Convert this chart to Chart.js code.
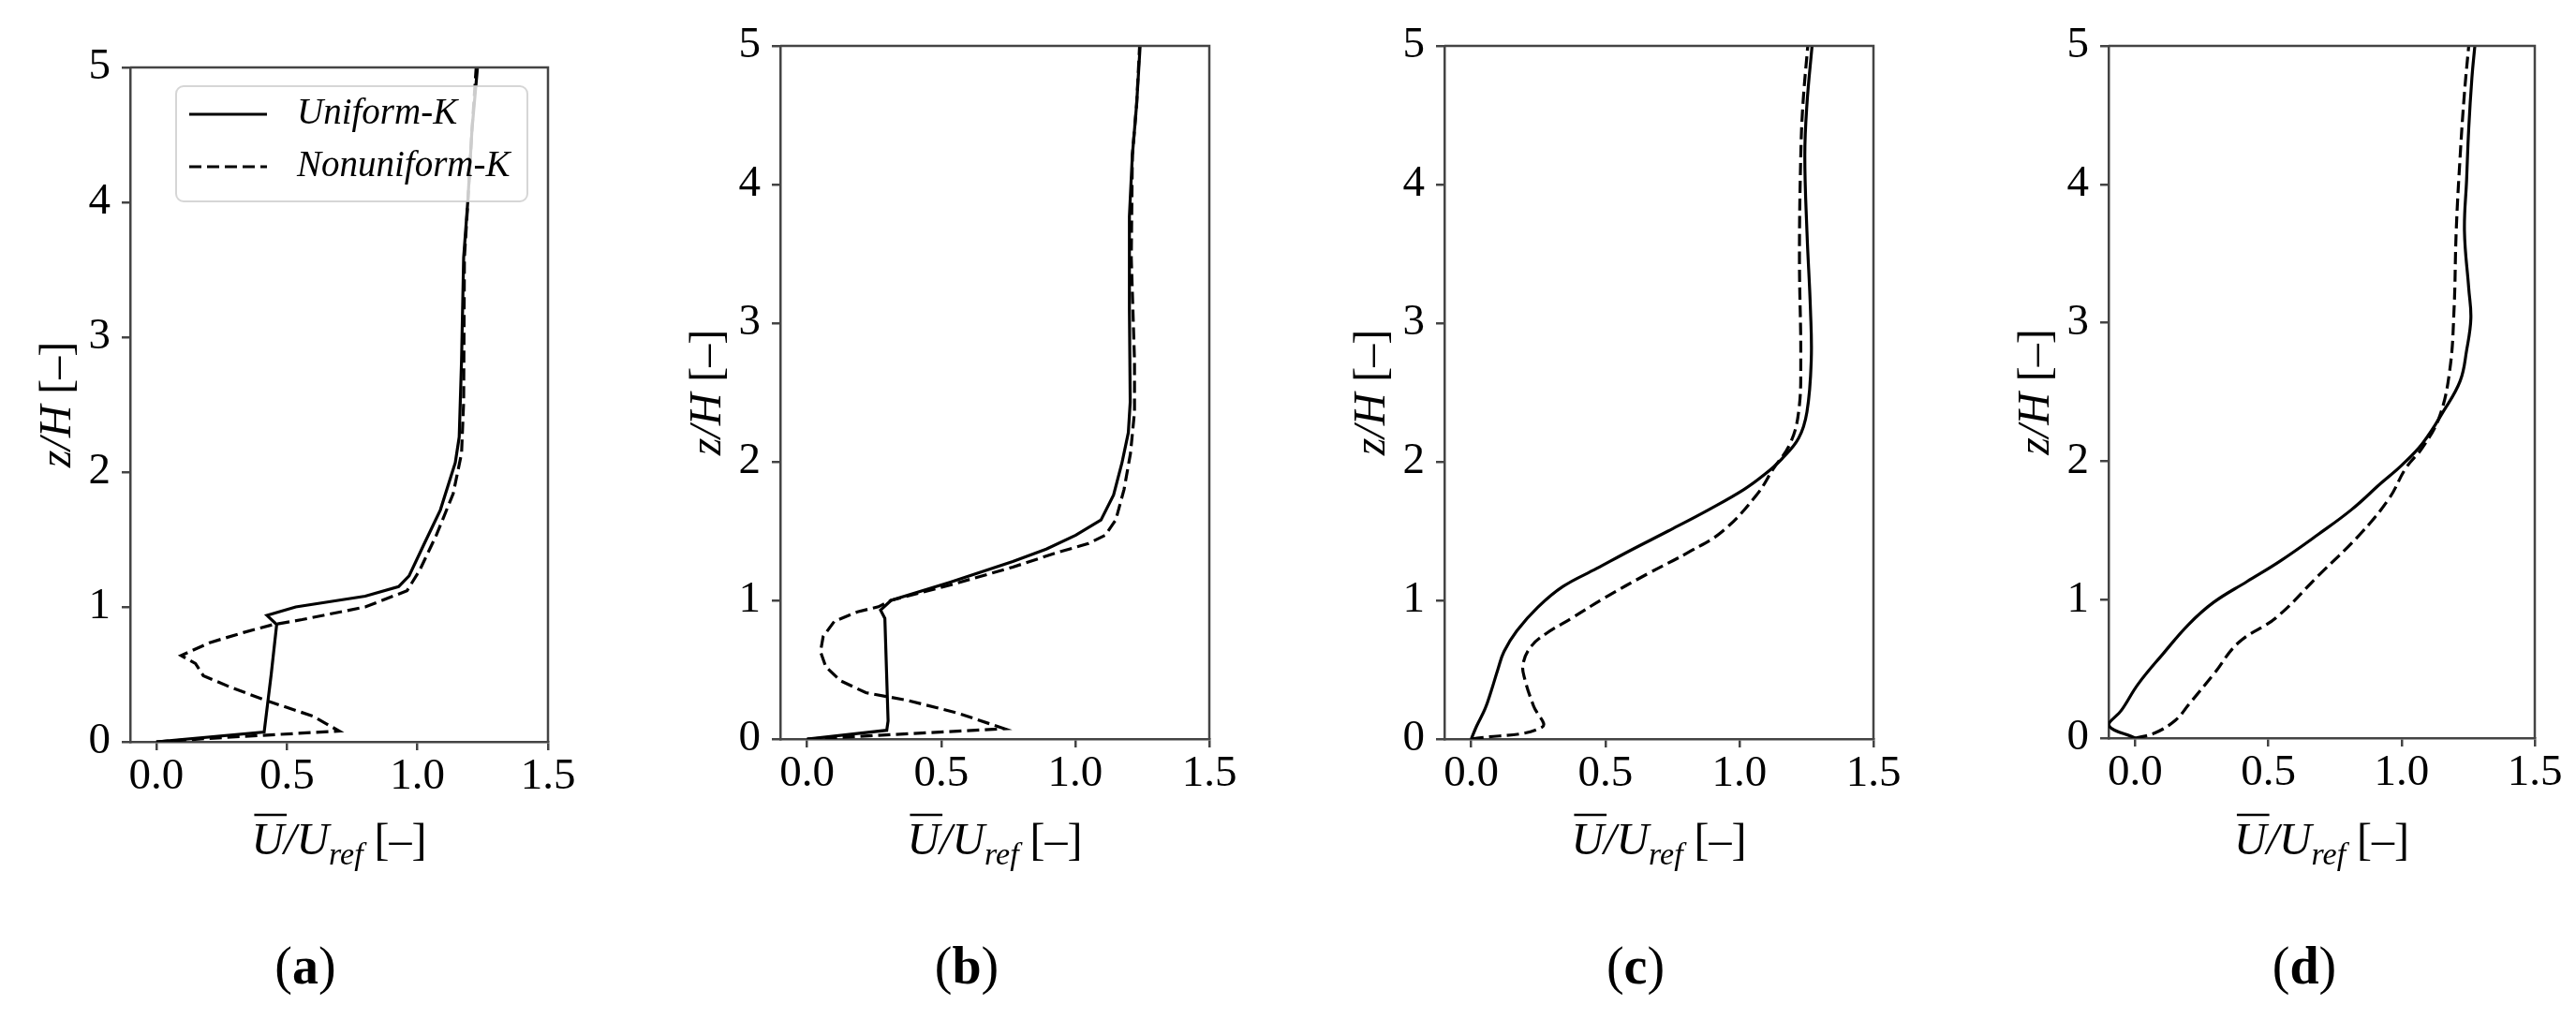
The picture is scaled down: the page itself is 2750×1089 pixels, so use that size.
<!DOCTYPE html>
<html>
<head>
<meta charset="utf-8">
<script src="https://cdn.jsdelivr.net/npm/chart.js@4.4.1/dist/chart.umd.min.js"></script>
<style>
    html, body { margin: 0; padding: 0; background: #fff; overflow: hidden; width: 2750px; height: 1089px; }
    canvas { position: absolute; top: 0; }
</style>
</head>
<body>
<canvas id="chartA"></canvas>
<canvas id="chartB"></canvas>
<canvas id="chartC"></canvas>
<canvas id="chartD"></canvas>
<script>
"use strict";

var xTicks = [0, 0.5, 1.0, 1.5];
var zTicks = [0, 1, 2, 3, 4, 5];
var seriesNames = ['Uniform-K', 'Nonuniform-K'];

// (a)
var aUniformU = [0, 0.413, 0.44, 0.461, 0.424, 0.534, 0.8, 0.928, 0.968, 1.024, 1.088, 1.145, 1.16, 1.169, 1.177, 1.193, 1.209, 1.23];
var aUniformZ = [0, 0.072, 0.5, 0.87, 0.937, 1.0, 1.08, 1.15, 1.23, 1.46, 1.72, 2.07, 2.26, 2.83, 3.59, 4.01, 4.54, 5.0];
var aNonuniformU = [0, 0.2, 0.70, 0.6, 0.43, 0.29, 0.18, 0.15, 0.095, 0.204, 0.333, 0.445, 0.558, 0.8, 0.96, 1.008, 1.072, 1.137, 1.169, 1.177, 1.18, 1.193, 1.209, 1.225];
var aNonuniformZ = [0, 0.025, 0.08, 0.19, 0.30, 0.40, 0.49, 0.58, 0.64, 0.735, 0.81, 0.868, 0.906, 1.0, 1.12, 1.27, 1.53, 1.84, 2.14, 2.52, 3.59, 4.0, 4.54, 5.0];

// (b)
var bUniformU = [0, 0.297, 0.302, 0.29, 0.274, 0.313, 0.532, 0.767, 0.892, 1.002, 1.096, 1.143, 1.174, 1.198, 1.205, 1.202, 1.202, 1.213, 1.229, 1.242];
var bUniformZ = [0, 0.063, 0.13, 0.87, 0.93, 1.0, 1.13, 1.28, 1.37, 1.47, 1.58, 1.76, 1.99, 2.21, 2.43, 3.1, 3.77, 4.21, 4.58, 5.0];
var bNonuniformU = [0, 0.736, 0.564, 0.376, 0.219, 0.125, 0.07, 0.05, 0.06, 0.102, 0.188, 0.266, 0.313, 0.532, 0.767, 0.924, 1.049, 1.112, 1.151, 1.182, 1.206, 1.221, 1.221, 1.209, 1.213, 1.229, 1.24];
var bNonuniformZ = [0, 0.074, 0.186, 0.278, 0.334, 0.42, 0.52, 0.63, 0.74, 0.85, 0.917, 0.954, 1.0, 1.11, 1.24, 1.34, 1.41, 1.47, 1.58, 1.8, 2.06, 2.36, 2.73, 3.47, 4.21, 4.58, 5.0];

// (c)
var cUniformU = [0, 0.02, 0.052, 0.075, 0.099, 0.122, 0.17, 0.248, 0.342, 0.468, 0.593, 0.734, 0.891, 1.017, 1.095, 1.158, 1.221, 1.252, 1.268, 1.265, 1.252, 1.244, 1.252, 1.271];
var cUniformZ = [0, 0.093, 0.22, 0.35, 0.5, 0.63, 0.78, 0.95, 1.1, 1.23, 1.36, 1.50, 1.66, 1.8, 1.91, 2.02, 2.17, 2.36, 2.73, 3.1, 3.66, 4.21, 4.58, 5.0];
var cNonuniformU = [0, 0.264, 0.232, 0.2, 0.193, 0.224, 0.279, 0.373, 0.499, 0.656, 0.813, 0.938, 1.064, 1.127, 1.189, 1.221, 1.229, 1.224, 1.229, 1.237, 1.255];
var cNonuniformZ = [0, 0.085, 0.24, 0.43, 0.54, 0.67, 0.76, 0.87, 1.02, 1.19, 1.35, 1.5, 1.76, 1.95, 2.13, 2.36, 2.73, 3.47, 4.21, 4.58, 5.0];

// (d)
var dUniformU = [0, -0.1, -0.052, 0.011, 0.105, 0.2, 0.294, 0.419, 0.545, 0.686, 0.812, 0.922, 1.0, 1.079, 1.157, 1.22, 1.244, 1.26, 1.252, 1.236, 1.244, 1.252, 1.264, 1.275];
var dUniformZ = [0, 0.093, 0.2, 0.39, 0.61, 0.82, 0.98, 1.13, 1.28, 1.47, 1.65, 1.84, 1.97, 2.13, 2.36, 2.58, 2.8, 3.03, 3.25, 3.66, 4.03, 4.4, 4.77, 5.0];
var dNonuniformU = [0, 0.074, 0.152, 0.2, 0.294, 0.388, 0.529, 0.686, 0.843, 0.953, 1.016, 1.079, 1.142, 1.181, 1.197, 1.205, 1.22, 1.236, 1.252];
var dNonuniformZ = [0, 0.037, 0.13, 0.24, 0.46, 0.69, 0.87, 1.17, 1.47, 1.73, 1.95, 2.1, 2.32, 2.66, 3.1, 3.66, 4.21, 4.66, 5.0];

var FONT = '"Liberation Serif", "Times New Roman", serif';
var AXIS_COLOR = '#444';
var PAGE_H = 1089;
var Y_AXIS_W = 130;

var panels = [
    { id: 'chartA', letter: 'a', left: 139, right: 585, top: 72, bottom: 792, labelX: 326, padRight: 60, tension: 0, legend: true,
      series: [[aUniformU, aUniformZ], [aNonuniformU, aNonuniformZ]] },
    { id: 'chartB', letter: 'b', left: 833, right: 1291, top: 49, bottom: 789, labelX: 1032, padRight: 60, tension: 0, legend: false,
      series: [[bUniformU, bUniformZ], [bNonuniformU, bNonuniformZ]] },
    { id: 'chartC', letter: 'c', left: 1542, right: 2000, top: 49, bottom: 789, labelX: 1746, padRight: 60, tension: 0.4, legend: false,
      series: [[cUniformU, cUniformZ], [cNonuniformU, cNonuniformZ]] },
    { id: 'chartD', letter: 'd', left: 2251, right: 2706, top: 49, bottom: 788, labelX: 2460, padRight: 44, tension: 0.4, legend: false,
      series: [[dUniformU, dUniformZ], [dNonuniformU, dNonuniformZ]] }
];

function MakePoints(us, zs) {
    return us.map(function (u, i) { return { x: u, y: zs[i] }; });
}

// draws a row of text pieces with mixed styles, starting at x
function DrawPieces(ctx, pieces, x, y) {
    pieces.forEach(function (p) {
        ctx.font = p.font;
        ctx.fillText(p.text, x, y + (p.dy || 0));
        p.x = x;
        p.w = ctx.measureText(p.text).width;
        x += p.w;
    });
}

function PiecesWidth(ctx, pieces) {
    var w = 0;
    pieces.forEach(function (p) {
        ctx.font = p.font;
        w += ctx.measureText(p.text).width;
    });
    return w;
}

var decorPlugin = {
    id: 'decor',
    afterDraw: function (chart) {
        var ctx = chart.ctx;
        var a = chart.chartArea;
        var p = chart.options.plugins.decor.panel;
        var canvasLeft = p.left - Y_AXIS_W;
        ctx.save();

        // top and right spines
        ctx.strokeStyle = AXIS_COLOR;
        ctx.lineWidth = 2.5;
        ctx.beginPath();
        ctx.moveTo(a.left, a.top);
        ctx.lineTo(a.right, a.top);
        ctx.lineTo(a.right, a.bottom);
        ctx.stroke();

        ctx.fillStyle = '#000';
        ctx.textBaseline = 'alphabetic';
        ctx.textAlign = 'left';

        // x label
        var xl = [
            { text: 'U', font: 'italic 48px ' + FONT },
            { text: '/U', font: 'italic 48px ' + FONT },
            { text: 'ref', font: 'italic 34px ' + FONT, dy: 11 },
            { text: ' [\u2013]', font: '48px ' + FONT }
        ];
        var cx = (a.left + a.right) / 2;
        var xw = PiecesWidth(ctx, xl);
        DrawPieces(ctx, xl, cx - xw / 2, 912);
        ctx.strokeStyle = '#000';
        ctx.lineWidth = 2.5;
        ctx.beginPath();
        ctx.moveTo(xl[0].x + 3, 870);
        ctx.lineTo(xl[0].x + xl[0].w + 3, 870);
        ctx.stroke();

        // y label
        var yl = [
            { text: 'z/H', font: 'italic 48px ' + FONT },
            { text: ' [\u2013]', font: '48px ' + FONT }
        ];
        ctx.save();
        ctx.translate(a.left - 77, (a.top + a.bottom) / 2);
        ctx.rotate(-Math.PI / 2);
        ctx.textBaseline = 'middle';
        var yw = PiecesWidth(ctx, yl);
        DrawPieces(ctx, yl, -yw / 2, 0);
        ctx.restore();

        // panel letter
        var pl = [
            { text: '(', font: '56px ' + FONT },
            { text: p.letter, font: 'bold 56px ' + FONT },
            { text: ')', font: '56px ' + FONT }
        ];
        var pw = PiecesWidth(ctx, pl);
        DrawPieces(ctx, pl, p.labelX - canvasLeft - pw / 2, 1050);

        // legend box
        if (p.legend) {
            var bx = a.left + 49, by = a.top + 20, bw = 375, bh = 123;
            ctx.fillStyle = 'rgba(255,255,255,0.8)';
            ctx.strokeStyle = 'rgba(204,204,204,0.8)';
            ctx.lineWidth = 2;
            ctx.beginPath();
            ctx.roundRect(bx, by, bw, bh, 8);
            ctx.fill();
            ctx.stroke();
            var rows = [by + 30, by + 86];
            ctx.strokeStyle = '#000';
            ctx.lineWidth = 3.2;
            seriesNames.forEach(function (name, i) {
                ctx.setLineDash(i === 1 ? [13, 6] : []);
                ctx.beginPath();
                ctx.moveTo(bx + 14, rows[i]);
                ctx.lineTo(bx + 97, rows[i]);
                ctx.stroke();
                ctx.setLineDash([]);
                ctx.fillStyle = '#000';
                ctx.textBaseline = 'middle';
                ctx.font = 'italic 39px ' + FONT;
                ctx.fillText(name, bx + 129, rows[i]);
            });
        }
        ctx.restore();
    }
};

function BuildPanel(p) {
    var canvas = document.getElementById(p.id);
    var width = (p.right - p.left) + Y_AXIS_W + p.padRight;
    canvas.width = width;
    canvas.height = PAGE_H;
    canvas.style.left = (p.left - Y_AXIS_W) + 'px';
    canvas.style.width = width + 'px';
    canvas.style.height = PAGE_H + 'px';

    var datasets = p.series.map(function (s, i) {
        return {
            label: seriesNames[i],
            data: MakePoints(s[0], s[1]),
            showLine: true,
            borderColor: '#000',
            backgroundColor: '#000',
            borderWidth: 3.2,
            borderDash: i === 1 ? [13, 6] : [],
            pointRadius: 0,
            tension: p.tension,
            fill: false
        };
    });

    var tickFont = { family: FONT, size: 47, lineHeight: 1 };

    return new Chart(canvas, {
        type: 'scatter',
        data: { datasets: datasets },
        options: {
            responsive: false,
            animation: false,
            devicePixelRatio: 1,
            layout: { padding: { top: p.top, right: p.padRight, left: 0, bottom: 0 } },
            plugins: {
                legend: { display: false },
                tooltip: { enabled: false },
                decor: { panel: p }
            },
            scales: {
                x: {
                    type: 'linear',
                    min: -0.1,
                    max: 1.5,
                    afterBuildTicks: function (s) { s.ticks = xTicks.map(function (v) { return { value: v }; }); },
                    afterFit: function (s) { s.height = PAGE_H - p.bottom; },
                    grid: { drawOnChartArea: false, drawTicks: true, tickLength: 9, color: AXIS_COLOR, lineWidth: 2.5 },
                    border: { display: true, color: AXIS_COLOR, width: 2.5 },
                    ticks: {
                        color: '#000', font: tickFont, padding: 5, maxRotation: 0, autoSkip: false,
                        callback: function (v) { return Number(v).toFixed(1); }
                    }
                },
                y: {
                    type: 'linear',
                    min: 0,
                    max: 5,
                    afterBuildTicks: function (s) { s.ticks = zTicks.map(function (v) { return { value: v }; }); },
                    afterFit: function (s) { s.width = Y_AXIS_W; },
                    grid: { drawOnChartArea: false, drawTicks: true, tickLength: 9, color: AXIS_COLOR, lineWidth: 2.5 },
                    border: { display: true, color: AXIS_COLOR, width: 2.5 },
                    ticks: {
                        color: '#000', font: tickFont, padding: 12, autoSkip: false,
                        callback: function (v) { return String(v); }
                    }
                }
            }
        },
        plugins: [decorPlugin]
    });
}

panels.forEach(BuildPanel);
</script>
</body>
</html>
